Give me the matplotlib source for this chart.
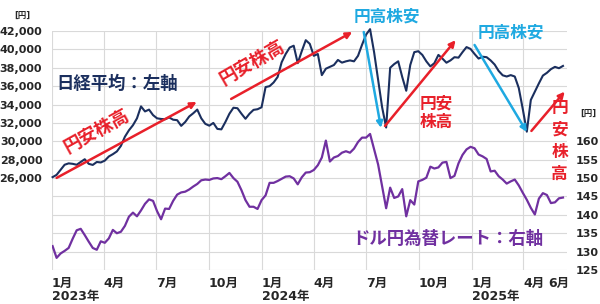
import pandas as pd
import matplotlib
matplotlib.use("Agg")
import matplotlib.pyplot as plt
import matplotlib.dates as mdates

plt.rcParams['font.family'] = ['DejaVu Sans', 'Noto Sans CJK JP']

# weekly (Monday) closes, Jan 2023 - Jun 2025
weeks = pd.date_range("2023-01-02", periods=128, freq="7D")

nikkei = [
    26100, 26350, 26900, 27450, 27600, 27550, 27450, 27750, 28050, 27550,
    27430, 27750, 27700, 27900, 28350, 28600, 28900, 29500, 30500, 31200,
    31750, 32500, 33800, 33250, 33450, 32850, 32500, 32430, 32400, 32600,
    32350, 32300, 31680, 32100, 32700, 33050, 33450, 32500, 31900, 31700,
    32000, 31350, 31300, 32100, 33000, 33650, 33600, 33000, 32450, 33000,
    33420, 33490, 33700, 35900, 36000, 36400, 37000, 38600, 39500, 40200,
    40400, 38500, 39800, 41000, 40600, 39300, 39500, 37200, 37900, 38100,
    38300, 38850, 38560, 38700, 38800, 38700, 39300, 40500, 41600, 42200,
    39700, 36700, 33700, 31500, 38000, 38400, 38700, 37000, 35500, 38300,
    39700, 39800, 39400, 38700, 38150, 38500, 39400, 39000, 38550, 38800,
    39150, 39100, 39700, 40250, 40050, 39500, 39000, 39200, 39150, 38800,
    38350, 37650, 37180, 37050, 37200, 37050, 35800, 33500, 31050, 34500,
    35400, 36300, 37150, 37450, 37850, 38100, 37950, 38200,
]

usdjpy = [
    131.5, 128.3, 129.5, 130.2, 131.0, 133.5, 135.8, 136.2, 134.5, 132.7,
    131.0, 130.5, 132.8, 132.4, 133.6, 135.9, 135.0, 135.4, 137.0, 139.5,
    140.6, 139.6, 141.2, 143.0, 144.2, 143.8, 141.0, 138.8, 141.7, 141.6,
    143.8, 145.5, 146.1, 146.3, 146.9, 147.7, 148.4, 149.4, 149.6, 149.5,
    149.9, 150.0, 149.7, 150.5, 151.4, 150.0, 149.0, 146.7, 144.0, 142.2,
    142.2, 141.6, 144.0, 145.3, 148.7, 148.7, 149.2, 149.8, 150.4, 150.5,
    149.9, 148.3, 150.2, 151.5, 151.6, 152.2, 153.5, 155.6, 160.2, 154.5,
    155.6, 156.0, 156.9, 157.3, 156.9, 158.0, 159.8, 161.0, 161.0, 162.0,
    157.8, 153.7, 147.7, 141.8, 147.4, 144.6, 145.0, 147.0, 139.6, 144.0,
    142.8, 149.1, 149.5, 150.1, 153.1, 152.6, 152.9, 154.2, 154.4, 150.0,
    150.6, 154.0, 156.3, 157.8, 158.5, 158.1, 156.4, 155.9, 155.2, 151.8,
    152.0, 150.5, 149.6, 148.5, 149.1, 149.6, 148.0, 146.0, 144.1, 141.9,
    140.1, 144.4, 145.9, 145.4, 143.2, 143.4, 144.5, 144.7,
]

month_ticks = pd.date_range("2023-01-01", "2025-04-01", freq="3MS")
month_labels = ["1月\n2023年", "4月", "7月", "10月", "1月\n2024年", "4月", "7月",
                "10月", "1月\n2025年", "4月"]
last_tick = pd.Timestamp("2025-06-01")

left_ticks = list(range(16000, 42001, 2000))
right_ticks = list(range(125, 191, 5))

NAVY = "#1B2F5E"
PURPLE = "#7030A0"
RED = "#E8202A"
CYAN = "#1FA9E1"
GRID = "#D9D9D9"
TICK = "#262626"

# arrows on left-axis scale: (start date, start value, end date, end value)
red_arrows = [
    ("2023-01-09", 26020, "2023-09-10", 34280),
    ("2023-11-09", 34610, "2024-06-07", 41890),
    ("2024-08-03", 31670, "2024-12-04", 41000),
    ("2025-04-15", 31130, "2025-06-12", 35400),
]
cyan_arrows = [
    ("2024-06-27", 41890, "2024-07-27", 31460),
    ("2025-01-06", 40480, "2025-04-07", 31020),
]


def d(s):
    return mdates.date2num(pd.Timestamp(s))


fig = plt.figure(figsize=(6, 3.04), dpi=100)
ax = fig.add_axes([52 / 600, 1 - 270 / 304, 515 / 600, 239 / 304])
ax2 = ax.twinx()

# left axis: Nikkei + grid
ax.set_axisbelow(True)
ax.grid(True, color=GRID, lw=0.8)
ax.plot(weeks, nikkei, color=NAVY, lw=1.5, clip_on=False)
ax.set_ylim(16000, 42000)
ax.set_yticks(left_ticks)
ax.set_yticklabels([f"{v:,}" if v >= 26000 else "" for v in left_ticks])
ax.set_xlim(pd.Timestamp("2023-01-01"), pd.Timestamp("2025-06-16"))
ax.set_xticks(month_ticks)
ax.set_xticklabels(month_labels, ha="left")
ax.set_xticks([last_tick], minor=True)
ax.set_xticklabels(["6月"], minor=True, ha="center")
ax.tick_params(axis="y", length=0, pad=7, labelsize=8, labelcolor=TICK)
ax.tick_params(axis="x", which="both", length=0, pad=5, labelsize=9, labelcolor=TICK)
for t in ax.get_yticklabels() + ax.get_xticklabels() + ax.get_xticklabels(minor=True):
    t.set_fontweight("bold")
    t.set_linespacing(1.0)

# right axis: USD/JPY
ax2.plot(weeks, usdjpy, color=PURPLE, lw=1.6)
ax2.set_ylim(125, 190)
ax2.set_yticks(right_ticks)
ax2.set_yticklabels([str(v) if v <= 160 else "" for v in right_ticks])
ax2.tick_params(axis="y", length=0, pad=6, labelsize=8, labelcolor=TICK)
for t in ax2.get_yticklabels():
    t.set_fontweight("bold")

for a in (ax, ax2):
    for s in a.spines.values():
        s.set_visible(False)

# annotations (drawn on top axes, placed in left-axis units)
tr = ax.transData
for x0, y0, x1, y1 in red_arrows:
    ax2.annotate("", xy=(d(x1), y1), xytext=(d(x0), y0), xycoords=tr, textcoords=tr,
                 arrowprops=dict(arrowstyle="-|>", color=RED, lw=1.8,
                                 mutation_scale=9, shrinkA=0, shrinkB=0),
                 annotation_clip=False)
for x0, y0, x1, y1 in cyan_arrows:
    ax2.annotate("", xy=(d(x1), y1), xytext=(d(x0), y0), xycoords=tr, textcoords=tr,
                 arrowprops=dict(arrowstyle="-|>", color=CYAN, lw=1.8,
                                 mutation_scale=9, shrinkA=0, shrinkB=0),
                 annotation_clip=False)

ax2.text(d("2023-01-09"), 36240, "日経平均：左軸", transform=tr, color=NAVY,
         fontsize=12.5, fontweight="bold", ha="left", va="center")
ax2.text(d("2024-06-07"), 19390, "ドル円為替レート：右軸", transform=tr, color=PURPLE,
         fontsize=12.5, fontweight="bold", ha="left", va="center")
ax2.text(d("2023-03-20"), 31130, "円安株高", transform=tr, color=RED, fontsize=13,
         fontweight="bold", ha="center", va="center", rotation=29, rotation_mode="anchor")
ax2.text(d("2023-12-15"), 38520, "円安株高", transform=tr, color=RED, fontsize=13,
         fontweight="bold", ha="center", va="center", rotation=30, rotation_mode="anchor")
ax2.text(d("2024-11-01"), 33090, "円安\n株高", transform=tr, color=RED, fontsize=12,
         fontweight="bold", ha="center", va="center", linespacing=1.05)
ax2.text(d("2025-06-03"), 30040, "円\n安\n株\n高", transform=tr, color=RED, fontsize=12,
         fontweight="bold", ha="center", va="center", linespacing=1.3)
ax2.text(d("2024-08-06"), 43520, "円高株安", transform=tr, color=CYAN, fontsize=12,
         fontweight="bold", ha="center", va="center")
ax2.text(d("2025-03-10"), 41780, "円高株安", transform=tr, color=CYAN, fontsize=12,
         fontweight="bold", ha="center", va="center")

# unit labels
ax.text(-0.058, 1.067, "[円]", transform=ax.transAxes, fontsize=6, color=TICK,
        fontweight="bold", ha="center", va="center")
ax.text(1.041, 0.657, "[円]", transform=ax.transAxes, fontsize=6, color=TICK,
        fontweight="bold", ha="center", va="center")

fig.savefig("out.png", dpi=100)
